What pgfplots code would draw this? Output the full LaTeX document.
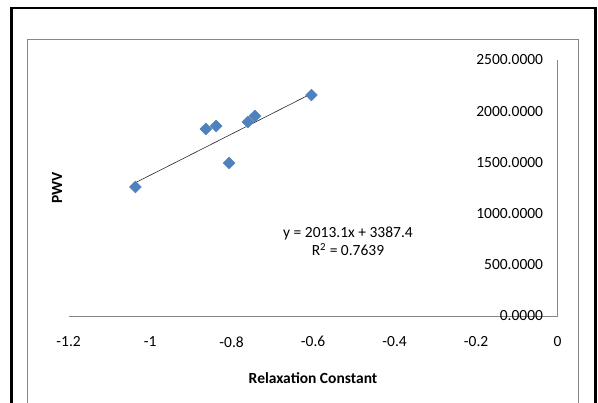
\documentclass[border=0pt]{standalone}
\usepackage{fontspec}
\setmainfont{Carlito}
\usepackage{pgfplots}
\pgfplotsset{compat=1.18}
\definecolor{xlblue}{HTML}{4F81BD}
\definecolor{xlgray}{HTML}{868686}
\newcommand{\lblfont}{\fontsize{15.5}{18}\selectfont}
\begin{document}
\begin{tikzpicture}
\useasboundingbox (0pt,0pt) rectangle (598pt,403pt);
\begin{scope}
  \clip (0pt,0pt) rectangle (598pt,403pt);
  % chart area and outer frame, both run past the bottom edge
  \draw[xlgray, line width=1pt] (27.5pt,-10pt) -- (27.5pt,363pt) -- (578pt,363pt) -- (578pt,-10pt);
  \draw[black, line width=2.5pt] (11.4pt,-10pt) -- (11.4pt,395pt) -- (595.5pt,395pt) -- (595.5pt,-10pt);
\end{scope}
\begin{axis}[
    at={(68.6pt,87pt)}, anchor=south west,
    scale only axis, width=489pt, height=256pt,
    xmin=-1.2, xmax=0, ymin=0, ymax=2500,
    axis x line=bottom, axis y line=right,
    axis line style={xlgray, line width=0.8pt, -},
    xtick={-1.2,-1,-0.8,-0.6,-0.4,-0.2,0},
    ytick={0,500,1000,1500,2000,2500},
    major tick length=0pt,
    tick label style={font=\lblfont, /pgf/number format/assume math mode=true},
    yticklabel style={/pgf/number format/.cd, fixed, fixed zerofill, precision=4, 1000 sep={},
      /tikz/.cd, anchor=east, xshift=-11pt},
    xticklabel style={/pgf/number format/.cd, fixed, precision=1, /tikz/.cd, yshift=-17pt},
    clip=false]
  \addplot[only marks, mark=square*, mark size=4.2pt,
    mark options={rotate=45, fill=xlblue, draw=xlblue}] coordinates {
    (-1.036,1260) (-0.863,1826) (-0.838,1855) (-0.806,1494)
    (-0.760,1895) (-0.743,1953) (-0.604,2158)};
  % linear trend line y = 2013.1x + 3387.4
  \addplot[black!85, line width=0.6pt] coordinates {(-1.036,1301.8) (-0.604,2171.5)};
\end{axis}
\node[align=center, font=\lblfont] at (348pt,162pt) {y = 2013.1x + 3387.4\\R\textsuperscript{2} = 0.7639};
\node[rotate=90, font=\lblfont\bfseries] at (57pt,215pt) {PWV};
\node[font=\lblfont\bfseries] at (313pt,25pt) {Relaxation Constant};
\end{tikzpicture}
\end{document}
